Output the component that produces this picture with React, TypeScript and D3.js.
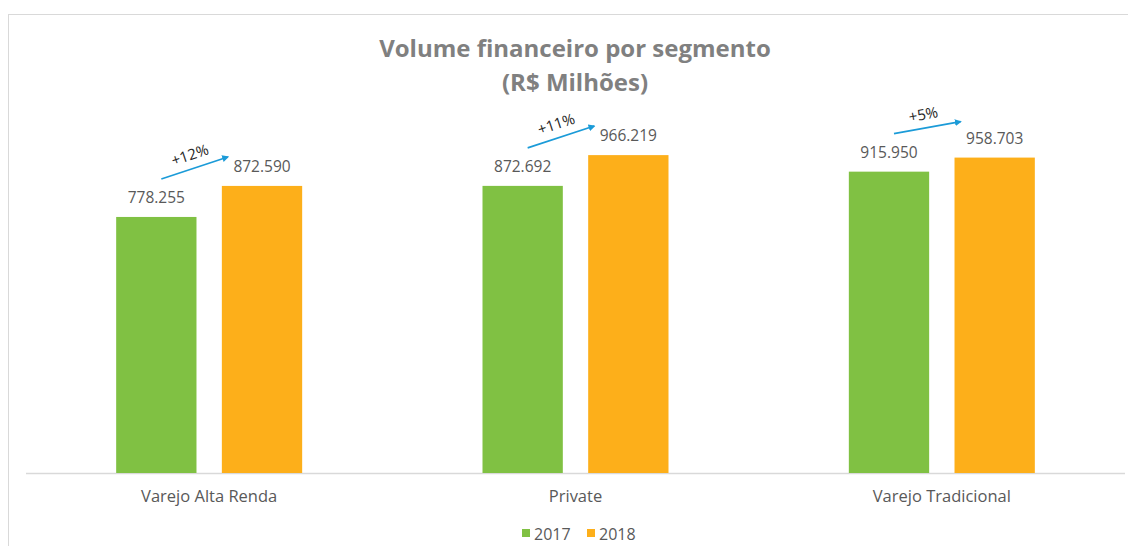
import React from "react";
import * as d3 from "d3";

const categories = ["Varejo Alta Renda", "Private", "Varejo Tradicional"];
const series = ["2017", "2018"];
const values2017 = [778.255, 872.692, 915.95];
const values2018 = [872.59, 966.219, 958.703];
const growthLabels = ["+12%", "+11%", "+5%"];
const colors = ["#80C143", "#FDAF1A"];

const W = 1128;
const H = 546;
const fmt = (v: number) => d3.format(".3f")(v);

export default function App() {
  const x0 = d3.scaleBand().domain(categories).range([26, 1125]);
  const x1 = d3.scaleBand().domain(series).range([0, 186]).paddingInner(0.24);
  const y = d3.scaleLinear().domain([0, 1000]).range([473, 144]);
  const labelFont = "'Open Sans', 'Liberation Sans', sans-serif";
  const textColor = "#595959";

  return (
    <div style={{ position: "fixed", left: 0, top: 0, width: W, height: H, overflow: "hidden" }}>
      <svg width={W} height={H} style={{ display: "block", background: "#fff" }}>
        <rect x={8.5} y={14.5} width={1130} height={540} fill="#fff" stroke="#D9D9D9" strokeWidth={1} />
        <defs>
          <marker id="arr" viewBox="0 0 10 10" refX={8} refY={5} markerWidth={7} markerHeight={7} orient="auto" markerUnits="userSpaceOnUse">
            <path d="M0,0 L10,5 L0,10 z" fill="#1B9BD8" />
          </marker>
        </defs>
        <text x={575} y={57} textAnchor="middle" fontFamily={labelFont} fontWeight={700} fontSize={24} fill="#808080">
          Volume financeiro por segmento
        </text>
        <text x={575} y={91} textAnchor="middle" fontFamily={labelFont} fontWeight={700} fontSize={24} fill="#808080">
          (R$ Milhões)
        </text>
        <line x1={26} x2={1125} y1={473.5} y2={473.5} stroke="#D9D9D9" strokeWidth={1.5} />
        {categories.map((c, i) => {
          const base = (x0(c) as number) + (x0.bandwidth() - 186) / 2;
          const vals = [values2017[i], values2018[i]];
          const gx = base + (x1("2017") as number);
          const ox = base + (x1("2018") as number);
          const bw = x1.bandwidth();
          const sx = gx + bw / 2 + 5;
          const sy = y(vals[0]) - 38;
          const ex = ox + 6;
          const ey = Math.min(y(vals[1]) - 29, sy - 12);
          const ang = (Math.atan2(ey - sy, ex - sx) * 180) / Math.PI;
          const mx = (sx + ex) / 2 - 3;
          const my = (sy + ey) / 2 - 8;
          return (
            <g key={c}>
              {series.map((s, j) => {
                const bx = base + (x1(s) as number);
                return (
                  <g key={s}>
                    <rect x={bx} y={y(vals[j])} width={bw} height={473 - y(vals[j])} fill={colors[j]} />
                    <text x={bx + bw / 2} y={y(vals[j]) - 14} textAnchor="middle" fontFamily={labelFont} fontSize={15.5} fill={textColor}>
                      {fmt(vals[j])}
                    </text>
                  </g>
                );
              })}
              <line x1={sx} y1={sy} x2={ex} y2={ey} stroke="#1B9BD8" strokeWidth={1.6} markerEnd="url(#arr)" />
              <text x={mx} y={my} textAnchor="middle" fontFamily={labelFont} fontSize={15} fill="#262626" transform={`rotate(${ang} ${mx} ${my})`}>
                {growthLabels[i]}
              </text>
              <text x={(x0(c) as number) + x0.bandwidth() / 2} y={502} textAnchor="middle" fontFamily={labelFont} fontSize={16.5} fill={textColor}>
                {c}
              </text>
            </g>
          );
        })}
        {series.map((s, j) => (
          <g key={s} transform={`translate(${522 + j * 65},529)`}>
            <rect x={0} y={0} width={8} height={8} fill={colors[j]} />
            <text x={12} y={10.5} fontFamily={labelFont} fontSize={16} fill={textColor}>{s}</text>
          </g>
        ))}
      </svg>
    </div>
  );
}
